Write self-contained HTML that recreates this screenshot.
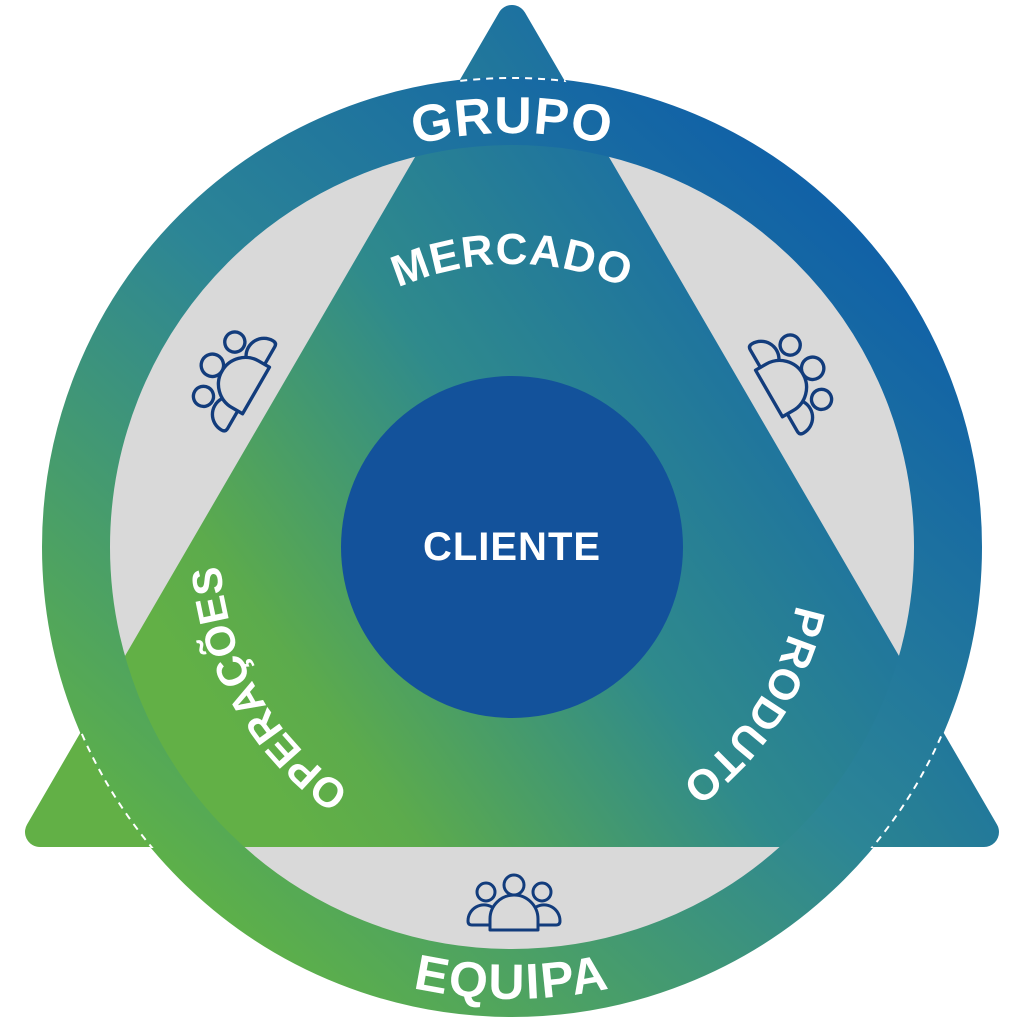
<!DOCTYPE html>
<html><head><meta charset="utf-8"><style>html,body{margin:0;padding:0;background:#fff}svg{display:block}</style></head>
<body>
<svg width="1024" height="1024" viewBox="0 0 1024 1024" xmlns="http://www.w3.org/2000/svg">
<defs>
<linearGradient id="tg" gradientUnits="userSpaceOnUse" x1="220" y1="720" x2="840" y2="280">
<stop offset="0" stop-color="#62b046"/><stop offset="0.12" stop-color="#5cab4c"/><stop offset="0.5" stop-color="#2f8a8c"/><stop offset="1" stop-color="#1668a8"/>
</linearGradient>
<linearGradient id="rg" gradientUnits="userSpaceOnUse" x1="200" y1="900" x2="850" y2="180">
<stop offset="0" stop-color="#5db049"/><stop offset="0.5" stop-color="#2c8596"/><stop offset="1" stop-color="#0f5fa8"/>
</linearGradient>
<clipPath id="tri"><polygon points="512,-12 15,848 1009,848"/></clipPath>
<g id="ic" fill="#d9d9d9" stroke="#123c7c" stroke-width="3" stroke-linejoin="round">
<circle cx="-28" cy="-5" r="9"/><circle cx="28" cy="-5" r="9"/>
<path d="M-20,28 H-42 Q-46,28 -46,24 A16,16 0 0 1 -22,10"/>
<path d="M20,28 H42 Q46,28 46,24 A16,16 0 0 0 22,10"/>
<path d="M-24,33 V22 A24,24 0 0 1 24,22 V33 Z"/>
<circle cx="0" cy="-12" r="10"/>
</g>
<path id="pG" d="M153.5,340 A414,414 0 0 1 870.5,340"/>
<path id="pM" d="M266.9,405.5 A283,283 0 0 1 757.1,405.5"/>
<path id="pP" d="M789.3,462.2 A290,290 0 0 1 547.3,835"/>
<path id="pO" d="M486.6,837.9 A292,292 0 0 1 247.4,423.5"/>
<path id="pE" d="M120.6,773 A452,452 0 0 0 903.4,773"/>
</defs>
<circle cx="512" cy="547" r="408" fill="#d9d9d9"/>
<polygon points="512,20 40,832 984,832" fill="url(#tg)" stroke="url(#tg)" stroke-width="30" stroke-linejoin="round"/>
<circle cx="512" cy="547" r="436" fill="none" stroke="url(#rg)" stroke-width="68"/>
<circle cx="512" cy="547" r="469" fill="none" stroke="#fff" stroke-width="2" stroke-dasharray="7 6" clip-path="url(#tri)"/>
<circle cx="512" cy="547" r="171" fill="#13529b"/>
<use href="#ic" transform="translate(514,897)"/>
<use href="#ic" transform="translate(224,372) rotate(-60) scale(1.12)"/>
<use href="#ic" transform="translate(801,375) rotate(60) scale(1.12)"/>
<g font-family="Liberation Sans, sans-serif" font-weight="bold" fill="#fff" text-anchor="middle">
<text x="512" y="560" font-size="40" letter-spacing="1">CLIENTE</text>
<text font-size="52" letter-spacing="1"><textPath href="#pG" startOffset="50%">GRUPO</textPath></text>
<text font-size="44" letter-spacing="1"><textPath href="#pM" startOffset="50%">MERCADO</textPath></text>
<text font-size="43" letter-spacing="0.5"><textPath href="#pP" startOffset="50%">PRODUTO</textPath></text>
<text font-size="42" letter-spacing="0"><textPath href="#pO" startOffset="50%">OPERAÇÕES</textPath></text>
<text font-size="50" letter-spacing="2"><textPath href="#pE" startOffset="50%">EQUIPA</textPath></text>
</g>
</svg>
</body></html>
